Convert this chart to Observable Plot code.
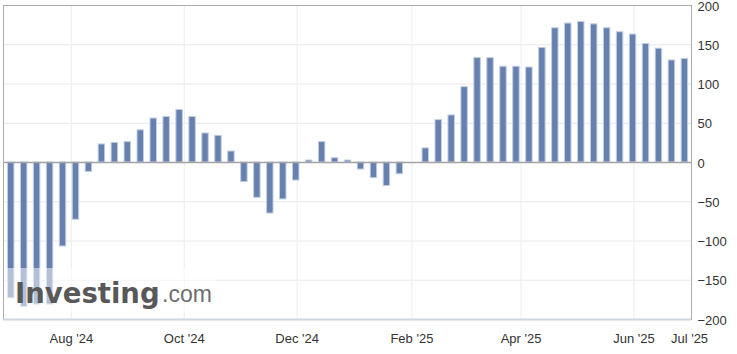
<!DOCTYPE html>
<html>
<head>
<meta charset="utf-8">
<script src="https://cdn.jsdelivr.net/npm/d3@7"></script>
<script src="https://cdn.jsdelivr.net/npm/@observablehq/plot@0.6"></script>
<style>
  html, body { margin: 0; padding: 0; background: #fff; }
  #wrap { position: relative; width: 737px; height: 354px; }
  #wm { position: absolute; left: 4px; top: 268px; width: 212px; height: 44px;
        background: rgba(255,255,255,0.5); pointer-events: none; white-space: nowrap; }
  #wm .a { position: absolute; left: 11px; top: 10.5px; font-family: "DejaVu Sans", sans-serif; font-size: 27.5px; line-height: 28px; font-weight: bold; color: #585858; letter-spacing: 0px; }
  #wm .b { position: absolute; left: 158px; top: 14.5px; font-family: "Liberation Sans", Arial, sans-serif; font-size: 23px; line-height: 23px; color: #6e6e6e; }
</style>
</head>
<body>
<div id="wrap"></div>
<script>
// Weekly observations (bar dates)
const dates = [
  "2024-06-29","2024-07-06","2024-07-13","2024-07-20","2024-07-27",
  "2024-08-03","2024-08-10","2024-08-17","2024-08-24","2024-08-31",
  "2024-09-07","2024-09-14","2024-09-21","2024-09-28",
  "2024-10-05","2024-10-12","2024-10-19","2024-10-26",
  "2024-11-02","2024-11-09","2024-11-16","2024-11-23","2024-11-30",
  "2024-12-07","2024-12-14","2024-12-21","2024-12-28",
  "2025-01-04","2025-01-11","2025-01-18","2025-01-25",
  "2025-02-01","2025-02-08","2025-02-15","2025-02-22",
  "2025-03-01","2025-03-08","2025-03-15","2025-03-22","2025-03-29",
  "2025-04-05","2025-04-12","2025-04-19","2025-04-26",
  "2025-05-03","2025-05-10","2025-05-17","2025-05-24","2025-05-31",
  "2025-06-07","2025-06-14","2025-06-21","2025-06-28"
];
const values = [
  -173, -184, -181, -181, -107,
  -73, -12, 23, 25, 26,
  41, 56, 58, 67,
  58, 37, 34, 14,
  -25, -45, -65, -47, -23,
  2.5, 26, 5.5, 2.5,
  -9, -20, -30, -15,
  null, 18, 54, 60,
  96, 133, 133, 122, 122,
  121, 146, 171, 177,
  179, 176, 171, 166, 163,
  151, 145, 130, 132
];
const yTicks = [-200, -150, -100, -50, 0, 50, 100, 150, 200];
const xTickDates = ["2024-08-01","2024-10-01","2024-12-01","2025-02-01","2025-04-01","2025-06-01","2025-07-01"];
const xTickLabels = ["Aug '24","Oct '24","Dec '24","Feb '25","Apr '25","Jun '25","Jul '25"];
const xDomain = ["2024-06-25T08:00:00Z", "2025-07-02T02:00:00Z"];

const data = dates.map((d, i) => ({date: new Date(d + "T00:00:00Z"), value: values[i]}))
  .filter(d => d.value != null);
const tickDates = xTickDates.map(d => new Date(d + "T00:00:00Z"));
const labelMap = new Map(tickDates.map((d, i) => [+d, xTickLabels[i]]));

const chart = Plot.plot({
  width: 737,
  height: 354,
  marginTop: 5,
  marginBottom: 35,
  marginLeft: 3,
  marginRight: 46,
  style: {fontFamily: "'Liberation Sans', Arial, sans-serif", fontSize: "13px", color: "#333", background: "#fff"},
  x: {type: "utc", domain: xDomain.map(d => new Date(d)), label: null},
  y: {domain: [yTicks[0], yTicks[yTicks.length - 1]], label: null},
  marks: [
    Plot.gridY(yTicks, {stroke: "#e8e8e8", strokeOpacity: 1}),
    Plot.gridX(tickDates.slice(0, 6), {stroke: "#ececec", strokeOpacity: 1}),
    Plot.rectY(data, {
      x1: d => d3.utcHour.offset(d.date, -30),
      x2: d => d3.utcHour.offset(d.date, 54),
      y: "value",
      fill: "#6681b0",
      stroke: "#c3cfe2",
      strokeWidth: 1
    }),
    Plot.ruleY([0], {stroke: "#a3a3a3", strokeWidth: 1.5}),
    Plot.frame({stroke: "#ababab"}),
    Plot.ruleY([yTicks[0]], {stroke: "#cdd6e2", strokeWidth: 2}),
    Plot.axisY(yTicks, {anchor: "right", tickSize: 0, tickPadding: 6, dy: 1, fontSize: 13, fill: "#333", label: null}),
    Plot.axisX(tickDates, {anchor: "bottom", tickSize: 0, tickPadding: 14, fontSize: 13, fill: "#333", label: null,
      tickFormat: d => labelMap.get(+d)})
  ]
});

const wrap = document.getElementById("wrap");
wrap.appendChild(chart);
const wm = document.createElement("div");
wm.id = "wm";
wm.innerHTML = '<span class="a">Investing</span><span class="b">.com</span>';
wrap.appendChild(wm);
</script>
</body>
</html>
